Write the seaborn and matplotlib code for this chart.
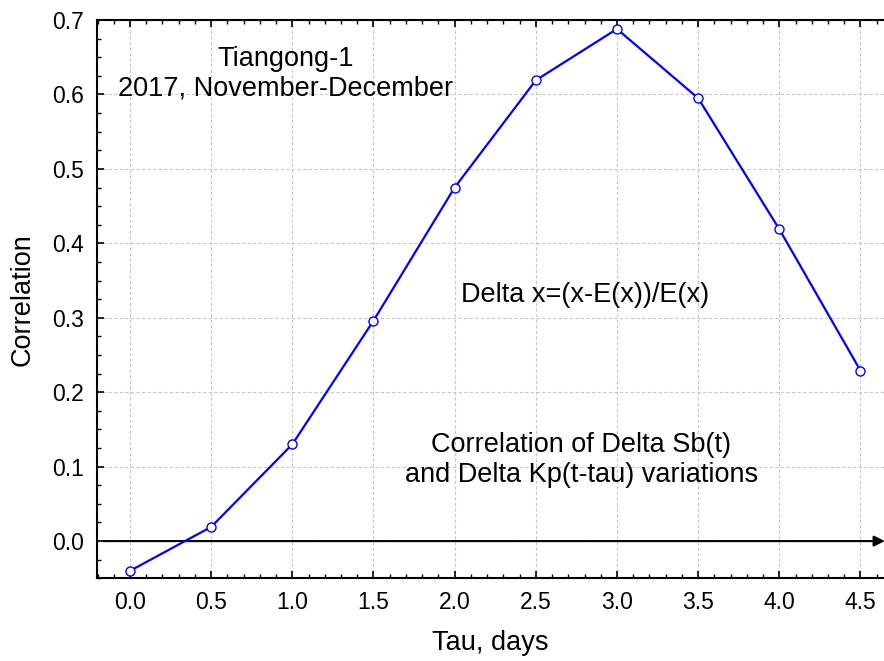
import numpy as np
import pandas as pd
import matplotlib
matplotlib.use('Agg')
import matplotlib.pyplot as plt
from matplotlib.ticker import MultipleLocator, FormatStrFormatter
import seaborn as sns

# data
tau = [0.0, 0.5, 1.0, 1.5, 2.0, 2.5, 3.0, 3.5, 4.0, 4.5]
corr = [-0.040, 0.019, 0.130, 0.296, 0.475, 0.619, 0.688, 0.595, 0.419, 0.229]

df = pd.DataFrame({'tau': tau, 'corr': corr})

sns.set_style('white')
plt.rcParams['font.family'] = ['Liberation Sans', 'DejaVu Sans']
plt.rcParams['text.color'] = 'black'
plt.rcParams['axes.labelcolor'] = 'black'
plt.rcParams['xtick.color'] = 'black'
plt.rcParams['ytick.color'] = 'black'

fig = plt.figure(figsize=(8.84, 6.61), dpi=100)
ax = fig.add_axes([0.1094, 0.1251, 0.8906, 0.8446])

sns.lineplot(data=df, x='tau', y='corr', ax=ax, color='#0000ff', lw=1.6,
             marker='o', markersize=6.5, markerfacecolor='white',
             markeredgecolor='#0000ff', markeredgewidth=1.0, zorder=5)

ax.set_xlim(-0.205, 4.645)
ax.set_ylim(-0.05, 0.70)

ax.xaxis.set_major_locator(MultipleLocator(0.5))
ax.xaxis.set_minor_locator(MultipleLocator(0.1))
ax.yaxis.set_major_locator(MultipleLocator(0.1))
ax.yaxis.set_minor_locator(MultipleLocator(0.025))
ax.xaxis.set_major_formatter(FormatStrFormatter('%.1f'))
ax.yaxis.set_major_formatter(FormatStrFormatter('%.1f'))

ax.grid(True, which='major', color='#c8c8c8', linestyle=(0, (3, 2)), lw=0.8)
ax.set_axisbelow(True)

for s in ['left', 'top', 'bottom']:
    ax.spines[s].set_color('black')
    ax.spines[s].set_linewidth(1.5)
ax.spines['right'].set_visible(False)

ax.tick_params(which='both', direction='in', top=True, right=False,
               bottom=True, left=True, color='black', labelcolor='black',
               labelsize=16.5, pad=9)
ax.tick_params(which='major', length=5, width=1.2)
ax.tick_params(which='minor', length=3, width=1.0)

# zero line with arrow
ax.annotate('', xy=(4.65, 0), xytext=(-0.165, 0),
            arrowprops=dict(arrowstyle='-|>', color='black', lw=1.5,
                            mutation_scale=16, shrinkA=0, shrinkB=0),
            annotation_clip=False, zorder=4)

ax.set_xlabel('Tau, days', fontsize=19.5, labelpad=12)
ax.set_ylabel('Correlation', fontsize=19.5, labelpad=12)

ax.text(0.96, 0.628, 'Tiangong-1\n2017, November-December', fontsize=19.5,
        ha='center', va='center', linespacing=1.2)
ax.text(2.805, 0.331, 'Delta x=(x-E(x))/E(x)', fontsize=19.5,
        ha='center', va='center')
ax.text(2.78, 0.109, 'Correlation of Delta Sb(t)\nand Delta Kp(t-tau) variations',
        fontsize=19.5, ha='center', va='center', linespacing=1.2)

plt.savefig('out.png', dpi=100)
